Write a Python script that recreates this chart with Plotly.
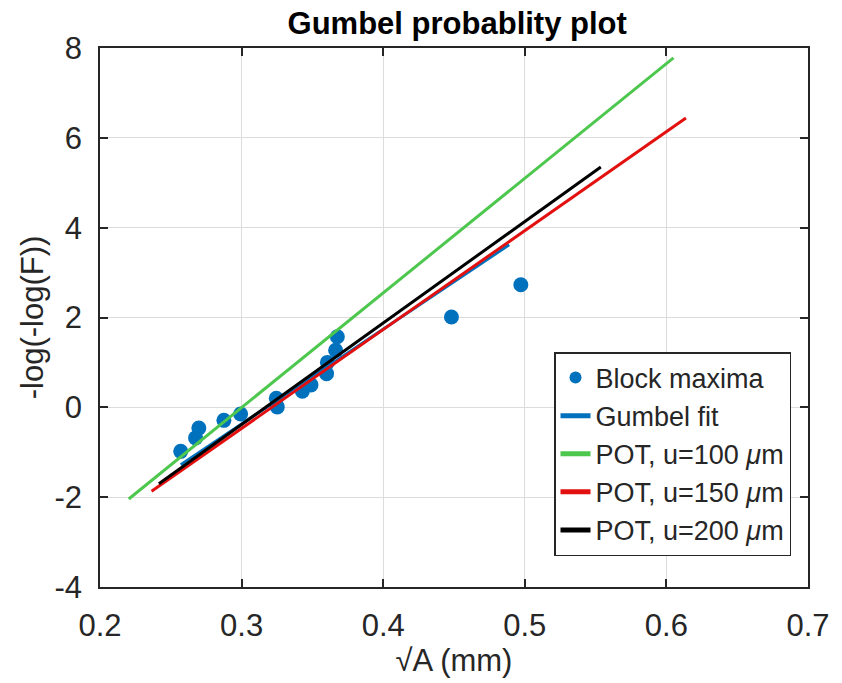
import plotly.graph_objects as go

# Block maxima (sqrt(A) in mm, reduced variate)
bm_x = [0.257, 0.2675, 0.2698, 0.2875, 0.2993, 0.3252, 0.3245, 0.3429, 0.3490, 0.3600, 0.3606, 0.3664, 0.3676, 0.4482, 0.4972]
bm_y = [-0.98, -0.68, -0.46, -0.29, -0.15, 0.01, 0.20, 0.36, 0.50, 0.75, 1.00, 1.27, 1.57, 2.01, 2.73]

# Fitted lines (end points)
gumbel_x = [0.257, 0.489]
gumbel_y = [-1.28, 3.62]
pot100_x = [0.2203, 0.605]
pot100_y = [-2.04, 7.78]
pot150_x = [0.2364, 0.6138]
pot150_y = [-1.87, 6.44]
pot200_x = [0.2416, 0.5537]
pot200_y = [-1.70, 5.35]

x_ticks = [0.2, 0.3, 0.4, 0.5, 0.6, 0.7]
x_ticktext = ["0.2", "0.3", "0.4", "0.5", "0.6", "0.7"]
y_ticks = [-4, -2, 0, 2, 4, 6, 8]
y_ticktext = ["-4", "-2", "0", "2", "4", "6", "8"]

FONT = "Arial, Liberation Sans, sans-serif"
BLUE = "#0072BD"

fig = go.Figure()
fig.add_trace(go.Scatter(x=bm_x, y=bm_y, mode="markers", name="Block maxima",
                         marker=dict(color=BLUE, size=15, line=dict(width=0))))
fig.add_trace(go.Scatter(x=gumbel_x, y=gumbel_y, mode="lines", name="Gumbel fit",
                         line=dict(color=BLUE, width=3)))
fig.add_trace(go.Scatter(x=pot100_x, y=pot100_y, mode="lines", name="POT, u=100 <i>μ</i>m",
                         line=dict(color="#4DC74D", width=3)))
fig.add_trace(go.Scatter(x=pot150_x, y=pot150_y, mode="lines", name="POT, u=150 <i>μ</i>m",
                         line=dict(color="#E31010", width=3)))
fig.add_trace(go.Scatter(x=pot200_x, y=pot200_y, mode="lines", name="POT, u=200 <i>μ</i>m",
                         line=dict(color="#000000", width=3)))

axis_common = dict(
    showgrid=True, gridcolor="#DCDCDC", gridwidth=1,
    showline=True, linecolor="#262626", linewidth=1.5, mirror="ticks",
    ticks="inside", ticklen=8, tickwidth=1.5, tickcolor="#262626",
    zeroline=False,
    tickfont=dict(family=FONT, size=31, color="#262626"),
)

fig.update_layout(
    width=842, height=683,
    margin=dict(l=100, r=34, t=48, b=96),
    paper_bgcolor="white", plot_bgcolor="white",
    title=dict(text="<b>Gumbel probablity plot</b>", x=0.543, xanchor="center",
               y=0.966, yanchor="middle",
               font=dict(family=FONT, size=31, color="black")),
    xaxis=dict(range=[0.2, 0.7], tickvals=x_ticks, ticktext=x_ticktext,
               ticklabelstandoff=10,
               title=dict(text="√A (mm)", font=dict(family=FONT, size=31, color="#262626"),
                          standoff=2),
               **axis_common),
    yaxis=dict(range=[-4, 8], tickvals=y_ticks, ticktext=y_ticktext,
               ticklabelstandoff=10,
               title=dict(text="-log(-log(F))", font=dict(family=FONT, size=31, color="#262626"),
                          standoff=2),
               **axis_common),
    legend=dict(x=0.976, y=0.0575, xanchor="right", yanchor="bottom",
                bgcolor="white", bordercolor="#262626", borderwidth=1.5,
                font=dict(family=FONT, size=27, color="#262626"),
                tracegroupgap=0, itemsizing="constant"),
    showlegend=True,
)

fig.write_html("out.html")
